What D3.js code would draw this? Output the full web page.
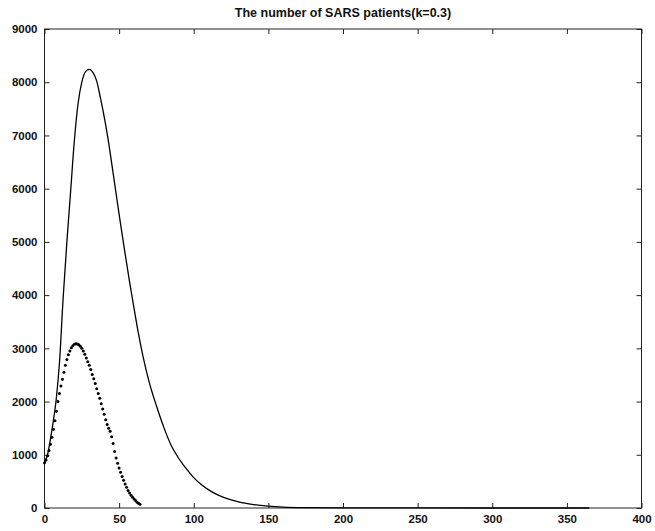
<!DOCTYPE html>
<html>
<head>
<meta charset="utf-8">
<script src="https://cdn.jsdelivr.net/npm/d3@7"></script>
<style>
  body { margin: 0; background: #fff; }
  text { font-family: "Liberation Sans", Arial, sans-serif; font-weight: bold; fill: #111; }
</style>
</head>
<body>
<svg width="655" height="531"></svg>
<script>
// model curve (solid): day, number of patients
var modelDays = [0, 2, 5, 8, 10, 12.5, 15, 17.5, 20, 22.5, 25, 27.5, 30, 32.5, 35, 37.5, 40, 42.5, 45, 48, 51, 54, 57, 60, 63, 66, 70, 75, 80, 85, 90, 95, 100, 105, 110, 115, 120, 130, 140, 150, 160, 175, 200, 250, 300, 365];
var modelValues = [850, 1000, 1470, 2080, 2720, 3950, 5000, 5950, 6900, 7600, 8000, 8200, 8240, 8180, 8020, 7700, 7350, 6950, 6480, 5900, 5330, 4780, 4250, 3750, 3270, 2850, 2380, 1920, 1510, 1170, 930, 740, 570, 440, 340, 260, 200, 115, 65, 35, 18, 8, 3, 1, 0, 0];

// reported data (dots): one value per day, day 0..64
var dataValues = [850, 900, 980, 1080, 1200, 1330, 1480, 1640, 1820, 2000,
  2150, 2290, 2420, 2550, 2680, 2790, 2880, 2950, 3010, 3050,
  3075, 3085, 3080, 3065, 3040, 3000, 2950, 2890, 2820, 2750,
  2680, 2600, 2510, 2430, 2340, 2240, 2150, 2060, 1960, 1860,
  1760, 1660, 1570, 1500, 1440, 1340, 1210, 1060, 940, 840,
  750, 670, 590, 520, 450, 390, 330, 280, 240, 200,
  170, 140, 110, 90, 70];

var xTicks = [0, 50, 100, 150, 200, 250, 300, 350, 400];
var yTicks = [0, 1000, 2000, 3000, 4000, 5000, 6000, 7000, 8000, 9000];
var title = "The number of SARS patients(k=0.3)";

var svg = d3.select("svg");
var mLeft = 44.5, mRight = 641.5, mTop = 29, mBottom = 508;

var x = d3.scaleLinear().domain([0, 400]).range([mLeft, mRight]);
var y = d3.scaleLinear().domain([0, 9000]).range([mBottom, mTop]);

// ticks pointing inward on all four sides
svg.append("g")
  .attr("transform", "translate(0," + mBottom + ")")
  .call(d3.axisBottom(x).tickValues(xTicks).tickSizeInner(-5).tickSizeOuter(0).tickPadding(7).tickFormat(d3.format("d")))
  .call(function(g) { g.select(".domain").remove(); });
svg.append("g")
  .attr("transform", "translate(0," + mTop + ")")
  .call(d3.axisTop(x).tickValues(xTicks).tickSizeInner(-5).tickSizeOuter(0).tickFormat(""))
  .call(function(g) { g.select(".domain").remove(); });
svg.append("g")
  .attr("transform", "translate(" + mLeft + ",0)")
  .call(d3.axisLeft(y).tickValues(yTicks).tickSizeInner(-5).tickSizeOuter(0).tickPadding(7).tickFormat(d3.format("d")))
  .call(function(g) { g.select(".domain").remove(); });
svg.append("g")
  .attr("transform", "translate(" + mRight + ",0)")
  .call(d3.axisRight(y).tickValues(yTicks).tickSizeInner(-5).tickSizeOuter(0).tickFormat(""))
  .call(function(g) { g.select(".domain").remove(); });

svg.selectAll(".tick text")
  .attr("font-size", 11.5)
  .attr("font-family", "Liberation Sans, Arial, sans-serif")
  .attr("font-weight", "bold")
  .attr("fill", "#111");
svg.selectAll(".tick line").attr("stroke", "#222");

// frame
svg.append("rect")
  .attr("x", mLeft).attr("y", mTop)
  .attr("width", mRight - mLeft).attr("height", mBottom - mTop)
  .attr("fill", "none").attr("stroke", "#222").attr("stroke-width", 1);

// solid curve
var line = d3.line()
  .x(function(d, i) { return x(modelDays[i]); })
  .y(function(d) { return y(d); })
  .curve(d3.curveMonotoneX);
svg.append("path")
  .datum(modelValues)
  .attr("d", line)
  .attr("fill", "none")
  .attr("stroke", "#000")
  .attr("stroke-width", 1.3);

// dots
svg.append("g")
  .selectAll("circle")
  .data(dataValues)
  .enter()
  .append("circle")
  .attr("cx", function(d, i) { return x(i); })
  .attr("cy", function(d) { return y(d); })
  .attr("r", 1.5)
  .attr("fill", "#000");

svg.append("text")
  .attr("x", (mLeft + mRight) / 2)
  .attr("y", 17)
  .attr("text-anchor", "middle")
  .attr("font-size", 12.5)
  .text(title);
</script>
</body>
</html>
